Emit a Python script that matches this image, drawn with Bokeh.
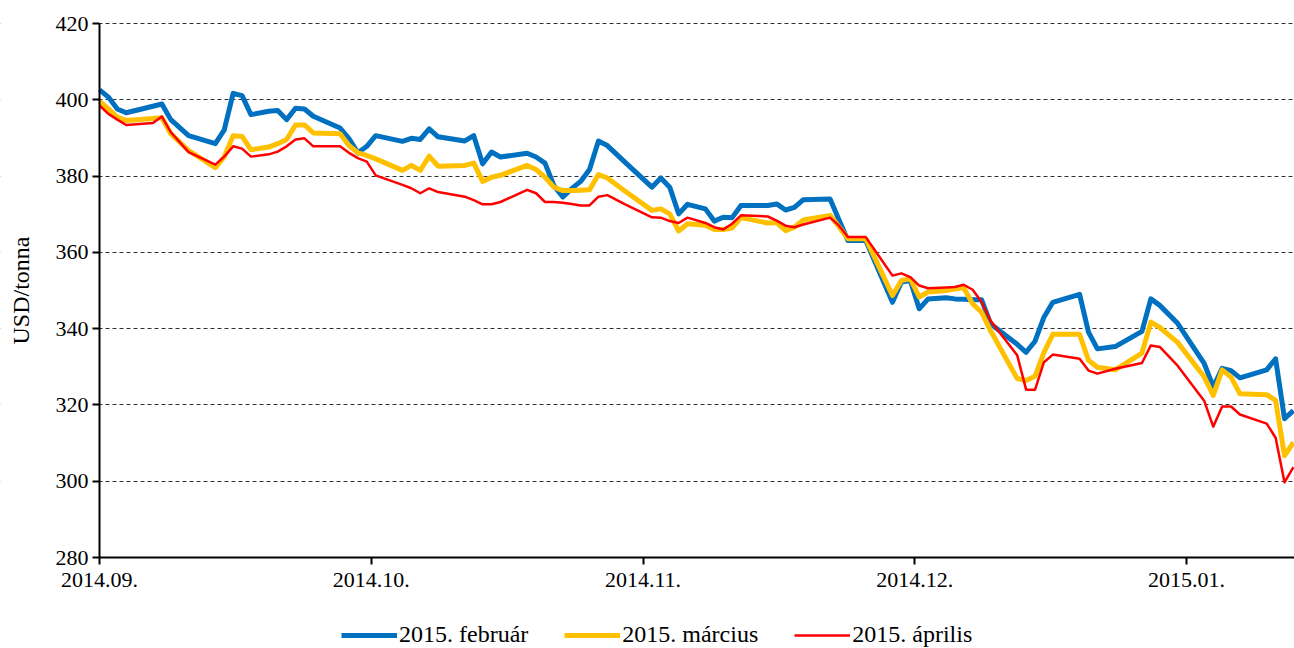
import math
from bokeh.plotting import figure
from bokeh.models import Range1d, FixedTicker, Legend, LegendItem, Label, BoxAnnotation
from bokeh.embed import file_html
from bokeh.resources import INLINE

# day offset from 2014-09-01 (axis: months drawn equally spaced)
days = [0, 1, 2, 3, 6, 7, 8, 10, 13, 14, 15, 16, 17, 19, 20, 21, 22, 23, 24, 27,
        28, 29, 30, 31, 34, 35, 36, 37, 38, 41, 42, 43, 44, 45, 48, 49, 50, 51, 52, 53,
        54, 55, 56, 57, 59, 62, 63, 64, 65, 66, 68, 69, 70, 71, 72, 75, 76, 77, 78, 79,
        82, 83, 84, 86, 89, 90, 91, 92, 93, 95, 96, 97, 98, 99, 100, 103, 104, 105, 106, 107,
        110, 111, 112, 114, 117, 118, 119, 121, 124, 125, 126, 127, 128, 131, 132, 133, 134]

feb = [402.6, 400.7, 397.6, 396.6, 398.3, 398.9, 394.8, 390.6, 388.5, 392.1, 401.7, 401.1, 396.1, 397.0, 397.2, 394.8, 397.8, 397.6, 395.7, 392.6,
       389.8, 386.1, 387.8, 390.6, 389.1, 389.9, 389.6, 392.4, 390.3, 389.2, 390.6, 383.2, 386.3, 385.0, 386.0, 385.0, 383.4, 377.5, 374.5, 376.7,
       378.6, 381.7, 389.2, 388.0, 383.6, 377.1, 379.5, 377.1, 370.1, 372.6, 371.4, 368.2, 369.2, 369.1, 372.3, 372.3, 372.7, 371.1, 371.8, 373.8,
       374.0, 368.5, 363.1, 363.1, 346.9, 352.2, 352.6, 345.2, 347.8, 348.1, 347.8, 347.7, 347.6, 347.6, 341.3, 335.9, 333.8, 336.7, 343.0, 346.9,
       349.0, 339.1, 334.7, 335.3, 339.3, 347.8, 346.1, 341.4, 330.8, 324.7, 329.6, 329.0, 327.1, 329.2, 332.1, 316.4, 318.5]

mar = [399.6, 397.6, 395.4, 394.6, 395.1, 395.3, 391.1, 386.7, 382.2, 385.0, 390.6, 390.4, 386.9, 387.6, 388.5, 389.6, 393.4, 393.4, 391.3, 391.1,
       388.0, 386.1, 385.4, 384.5, 381.5, 382.8, 381.5, 385.2, 382.6, 382.8, 383.4, 378.6, 379.7, 380.2, 382.8, 381.7, 379.7, 377.1, 376.2, 376.2,
       376.3, 376.4, 380.4, 379.5, 376.0, 371.0, 371.4, 370.1, 365.6, 367.5, 367.1, 366.0, 366.0, 366.4, 369.1, 367.7, 367.8, 365.7, 366.6, 368.5,
       369.7, 366.7, 363.6, 363.6, 348.7, 352.6, 353.1, 348.3, 349.6, 350.0, 350.4, 350.7, 346.5, 344.3, 339.5, 326.9, 326.4, 327.5, 333.8, 338.5,
       338.5, 331.7, 329.9, 329.2, 333.6, 341.7, 340.3, 336.4, 327.3, 322.5, 329.2, 327.3, 322.9, 322.7, 321.2, 306.7, 310.2]

apr = [398.5, 396.3, 394.8, 393.4, 393.9, 395.6, 391.5, 386.3, 383.0, 385.1, 387.8, 387.2, 385.1, 385.7, 386.4, 387.8, 389.6, 389.9, 387.8, 387.8,
       386.1, 384.7, 383.8, 380.2, 377.7, 376.8, 375.5, 376.8, 375.8, 374.6, 373.7, 372.6, 372.6, 373.2, 376.4, 375.5, 373.2, 373.2, 373.0, 372.7,
       372.3, 372.3, 374.6, 375.0, 372.6, 369.2, 369.1, 368.2, 367.7, 369.1, 367.7, 366.6, 366.0, 367.5, 369.7, 369.4, 368.3, 367.0, 366.6, 367.3,
       369.1, 367.0, 364.0, 364.0, 353.9, 354.5, 353.5, 351.3, 350.6, 350.8, 350.9, 351.5, 350.2, 347.0, 342.1, 333.0, 324.0, 324.0, 331.2, 333.2,
       332.1, 329.0, 328.2, 329.5, 331.0, 335.6, 335.2, 330.3, 321.0, 314.3, 319.6, 319.6, 317.5, 315.1, 311.4, 299.7, 303.7]

month_ticks = [0, 30.5, 61, 91.5, 122]
month_labels = ["2014.09.", "2014.10.", "2014.11.", "2014.12.", "2015.01."]
y_min, y_max = 280, 420
y_ticks = [280, 300, 320, 340, 360, 380, 400, 420]
grid_ticks = [300, 320, 340, 360, 380, 400, 420]
names = ["2015. február", "2015. március", "2015. április"]
colors = ["#0070C0", "#FFC000", "#FF0000"]
widths = [5, 5, 2.5]
y_title = "USD/tonna"

FONT = "Liberation Serif"

# Layout (pixels): plot area x 99..1294 / y 23..557; the frame covers the whole
# canvas so tick labels, the y title and the legend are never clipped.
W, H = 1294, 648
LEFT, TOP, AXIS_Y = 99, 23, 557
px_per_day = (1186 - LEFT) / month_ticks[-1]
x_start = -LEFT / px_per_day
x_end = (W - LEFT) / px_per_day
px_per_unit = (AXIS_Y - TOP) / (y_max - y_min)
y_start = y_max - (H - TOP) / px_per_unit
y_end = y_max + TOP / px_per_unit

p = figure(width=W, height=H, output_backend="svg", toolbar_location=None,
           x_range=Range1d(x_start, x_end), y_range=Range1d(y_start, y_end),
           min_border_left=0, min_border_right=0, min_border_top=0, min_border_bottom=0)
p.outline_line_color = None
p.background_fill_color = "white"

p.xgrid.visible = False
p.ygrid.ticker = FixedTicker(ticks=grid_ticks)
p.ygrid.grid_line_color = "#303030"
p.ygrid.grid_line_dash = "4 3"
p.ygrid.grid_line_width = 1

# white mask left of the y axis so the dashed grid starts at the axis
p.add_layout(BoxAnnotation(right=0, fill_color="white", fill_alpha=1,
                           line_color=None, level="underlay"))

for ax in (p.xaxis[0], p.yaxis[0]):
    ax.axis_line_color = "black"
    ax.axis_line_width = 2
    ax.major_tick_line_color = "black"
    ax.major_tick_line_width = 2
    ax.major_tick_out = 7
    ax.major_tick_in = 0
    ax.minor_tick_line_color = None
    ax.major_label_text_font = FONT
    ax.major_label_text_font_size = "22px"
    ax.major_label_text_color = "black"

p.xaxis.major_label_standoff = 8
p.yaxis.major_label_standoff = 4

p.xaxis.ticker = FixedTicker(ticks=month_ticks)
p.xaxis.major_label_overrides = {t: l for t, l in zip(month_ticks, month_labels)}
p.xaxis.fixed_location = y_min
p.xaxis.bounds = (0, x_end)

p.yaxis.ticker = FixedTicker(ticks=y_ticks)
p.yaxis.fixed_location = 0
p.yaxis.bounds = (y_min, y_max)

p.add_layout(Label(x=20, y=(y_min + y_max) / 2, x_units="screen", y_units="data",
                   text=y_title, angle=math.pi / 2, text_align="center",
                   text_baseline="middle", text_font=FONT, text_font_size="24px",
                   text_color="black"))

items = []
for vals, name, c, w in zip([feb, mar, apr], names, colors, widths):
    r = p.line(days, vals, line_color=c, line_width=w, line_join="round")
    items.append(LegendItem(label=name, renderers=[r]))

legend = Legend(items=items, orientation="horizontal", location=(341, 0),
                glyph_width=56, glyph_height=20, label_standoff=2, spacing=36,
                padding=0, margin=0, border_line_color=None, background_fill_alpha=0,
                label_text_font=FONT, label_text_font_size="24px", label_text_color="black")
p.add_layout(legend)

open("out.html", "w").write(file_html(p, INLINE))
